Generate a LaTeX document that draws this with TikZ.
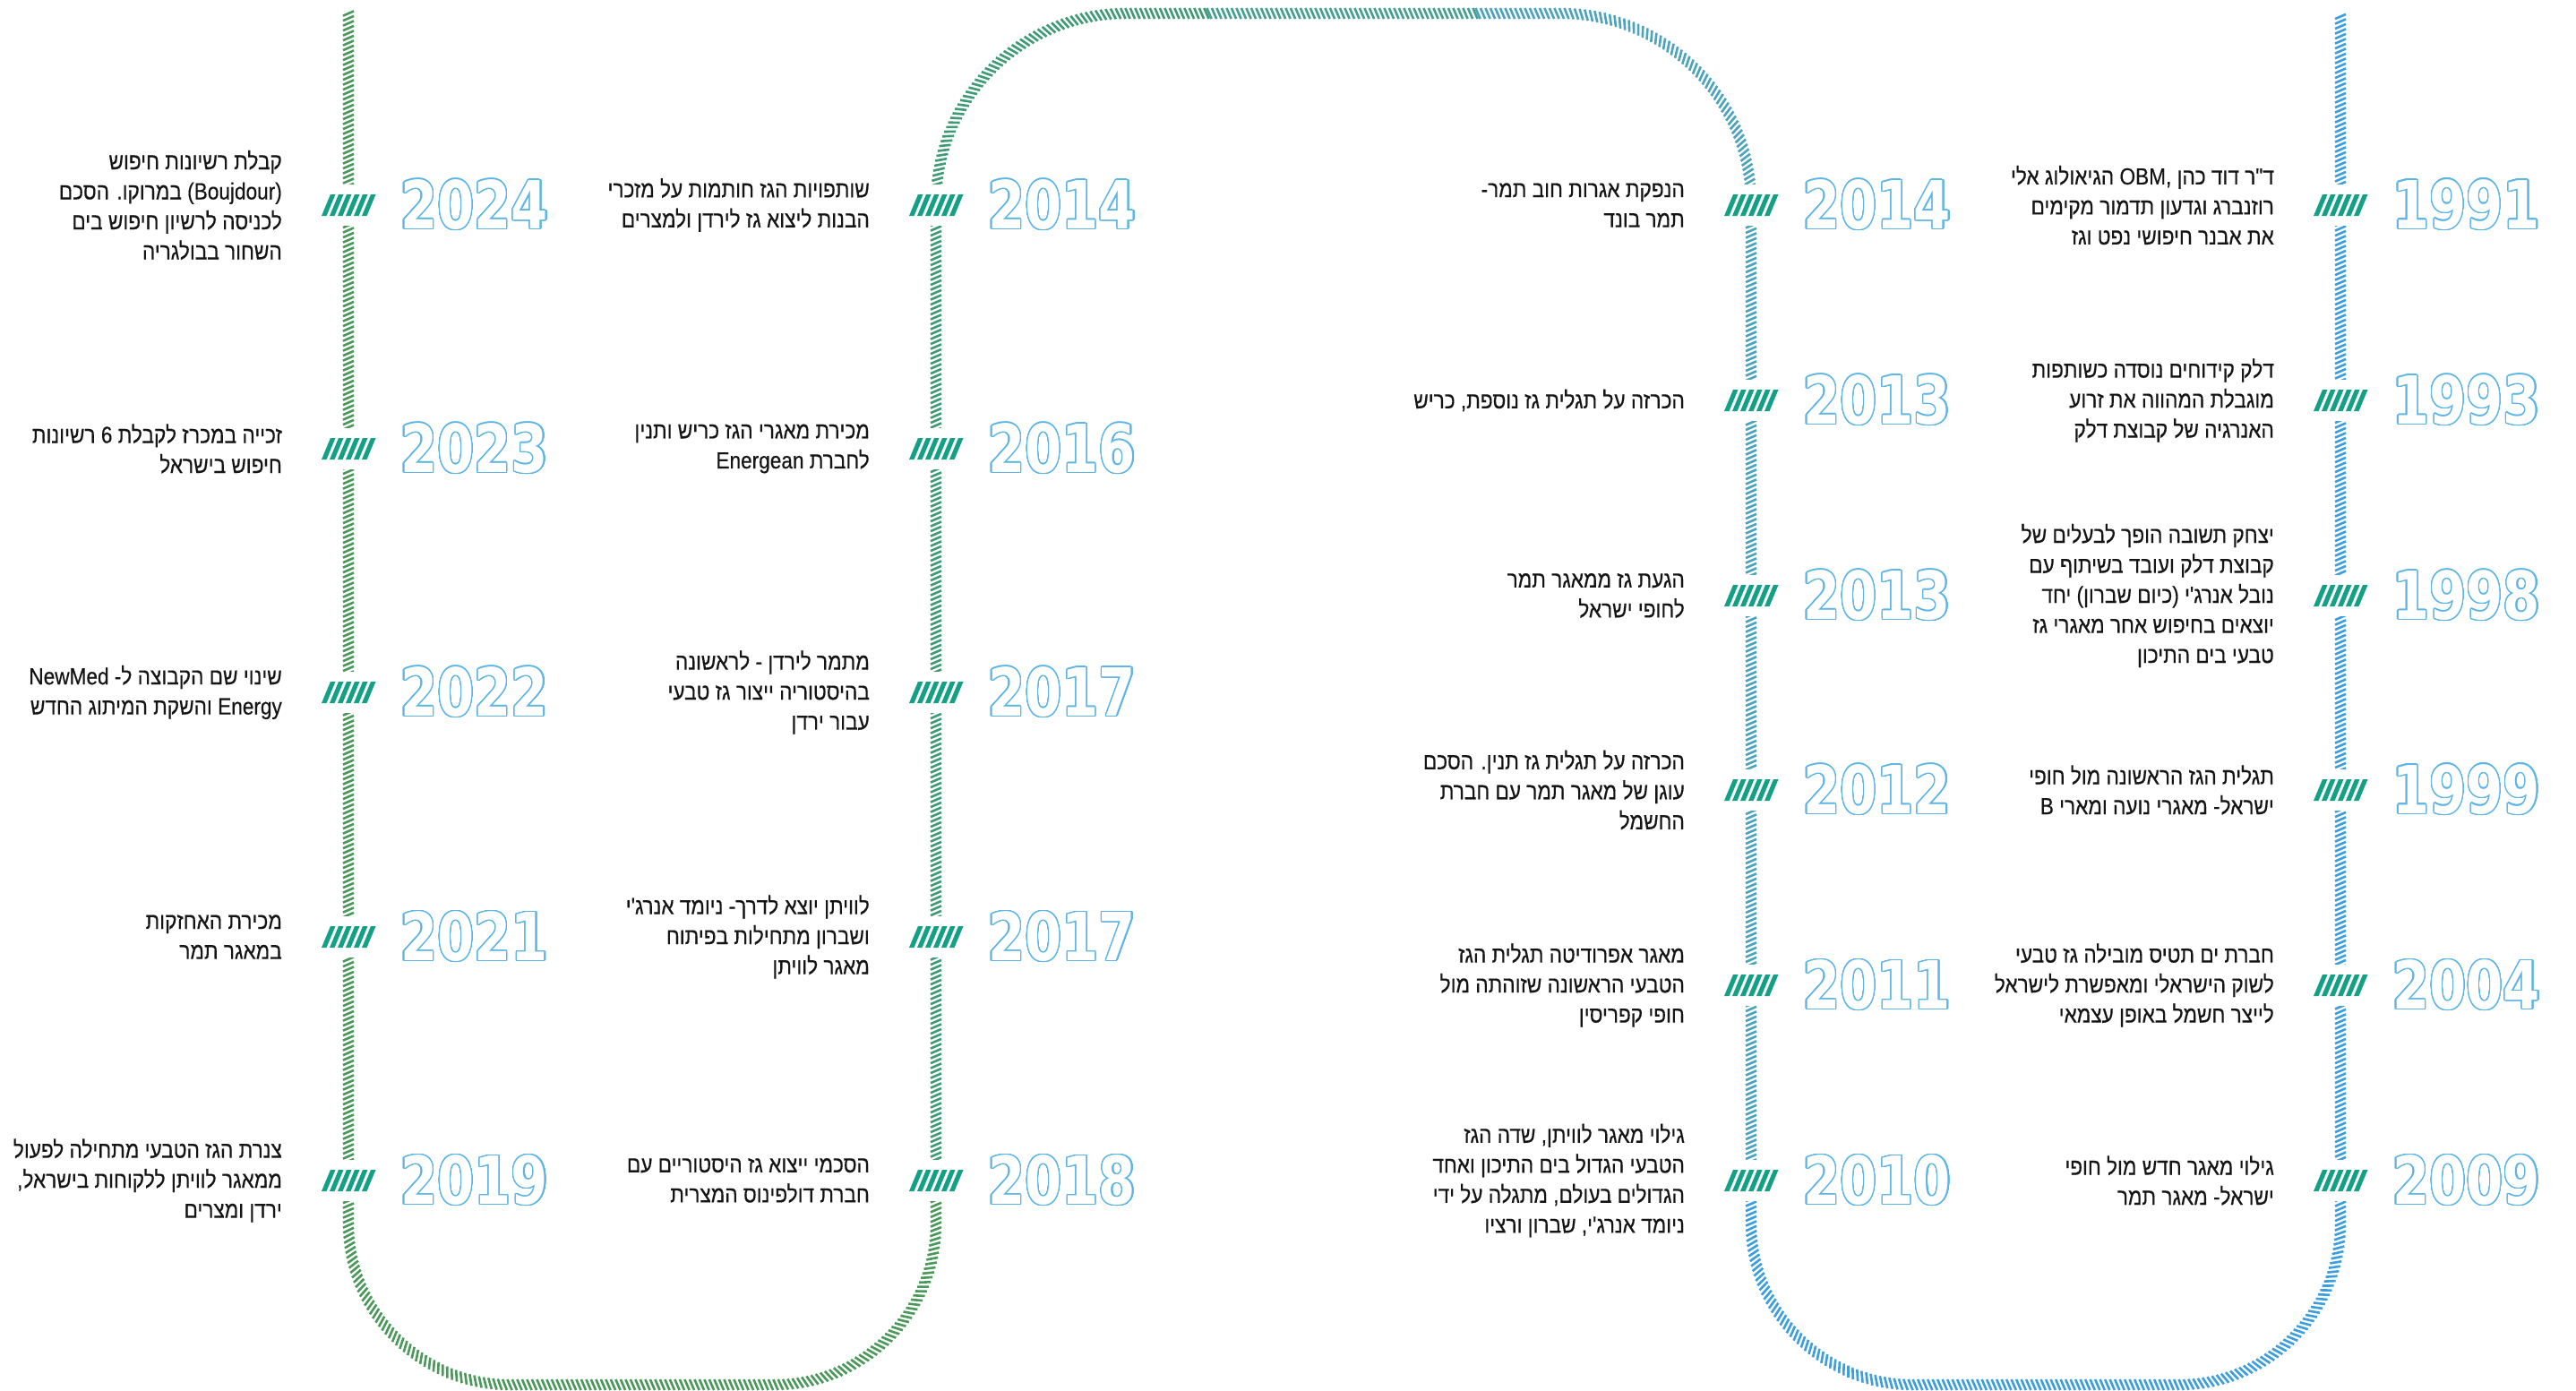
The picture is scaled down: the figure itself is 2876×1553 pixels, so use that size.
\documentclass[tikz,border=0pt]{standalone}
\usepackage{fontspec}
\usepackage[copies]{contour}
\usetikzlibrary{decorations.markings}
\TeXXeTstate=1
\newfontfamily\hebfont[Script=Hebrew,FakeStretch=0.87,FakeBold=0.4]{Liberation Sans}
\newfontfamily\yearfont[FakeStretch=0.8]{DejaVu Sans}
\definecolor{trackgreen}{HTML}{4A985A}
\definecolor{trackteal1}{HTML}{3F9A76}
\definecolor{trackteal2}{HTML}{44A092}
\definecolor{trackteal3}{HTML}{4CA4BC}
\definecolor{trackblue}{HTML}{3C9EDC}
\definecolor{markteal}{HTML}{14A085}
\definecolor{yearblue}{HTML}{5DB5E5}
\definecolor{txt}{HTML}{151515}
\contourlength{1.3pt}
\contournumber{32}
\newcommand\rl[1]{\beginR #1\endR}
\newcommand\tickbars[1]{\foreach \i in {0,...,5}{\fill[markteal,shift={(#1.center)}] (-30+9*\i,-12) -- ++(5.5,0) -- ++(10,24) -- ++(-5.5,0) -- cycle;}}
\tikzset{
  hatch/.style={decoration={markings, mark=between positions 0 and 1 step 5.5pt with {\draw[#1, line width=2.6pt] (2.6pt,-6pt) -- (-2.6pt,6pt);}}, decorate},
  gap/.style={fill=white, minimum width=66pt, minimum height=46pt, inner sep=0pt},
  event/.style={anchor=east, inner sep=0pt, align=right, text=txt, font=\hebfont\fontsize{26pt}{33.5pt}\selectfont},
  year/.style={anchor=west, inner sep=0pt, text=white, font=\yearfont\bfseries\fontsize{74pt}{74pt}\selectfont},
}
\newcommand\evt[5]{%
  \node[gap] (m#1) at (#2,-#3) {};
  \tickbars{m#1}
  \node[year] (y#1) at ([xshift=58pt]m#1.center) {\contour{yearblue}{#4}};
  \node[event] (t#1) at ([xshift=-74pt]m#1.center) {#5};
}
\begin{document}
\begin{tikzpicture}[x=1pt,y=1pt]
\path[use as bounding box, fill=white] (0,0) rectangle (2876,-1553);
% tracks
\path[hatch=trackgreen, rounded corners=180pt] (389,-15) -- (389,-1546) -- (1045,-1546) -- (1045,-1300);
\path[hatch=trackteal1, rounded corners=212pt] (1045,-1300) -- (1045,-15) -- (1350,-15);
\path[hatch=trackteal2] (1350,-15) -- (1650,-15);
\path[hatch=trackteal3, rounded corners=212pt] (1650,-15) -- (1955,-15) -- (1955,-1300);
\path[hatch=trackblue, rounded corners=180pt] (1955,-1300) -- (1955,-1546) -- (2613,-1546) -- (2613,-15);
% column A
\evt{A1}{389}{229}{2024}{\rl{קבלת רשיונות חיפוש}\\\rl{(Boujdour) במרוקו. הסכם}\\\rl{לכניסה לרשיון חיפוש בים}\\\rl{השחור בבולגריה}}
\evt{A2}{389}{501}{2023}{\rl{זכייה במכרז לקבלת 6 רשיונות}\\\rl{חיפוש בישראל}}
\evt{A3}{389}{773}{2022}{\rl{שינוי שם הקבוצה ל- NewMed}\\\rl{Energy והשקת המיתוג החדש}}
\evt{A4}{389}{1046}{2021}{\rl{מכירת האחזקות}\\\rl{במאגר תמר}}
\evt{A5}{389}{1318}{2019}{\rl{צנרת הגז הטבעי מתחילה לפעול}\\\rl{ממאגר לוויתן ללקוחות בישראל,}\\\rl{ירדן ומצרים}}
% column B
\evt{B1}{1045}{229}{2014}{\rl{שותפויות הגז חותמות על מזכרי}\\\rl{הבנות ליצוא גז לירדן ולמצרים}}
\evt{B2}{1045}{501}{2016}{\rl{מכירת מאגרי הגז כריש ותנין}\\\rl{לחברת Energean}}
\evt{B3}{1045}{773}{2017}{\rl{מתמר לירדן - לראשונה}\\\rl{בהיסטוריה ייצור גז טבעי}\\\rl{עבור ירדן}}
\evt{B4}{1045}{1046}{2017}{\rl{לוויתן יוצא לדרך- ניומד אנרג'י}\\\rl{ושברון מתחילות בפיתוח}\\\rl{מאגר לוויתן}}
\evt{B5}{1045}{1318}{2018}{\rl{הסכמי ייצוא גז היסטוריים עם}\\\rl{חברת דולפינוס המצרית}}
% column C
\evt{C1}{1955}{229}{2014}{\rl{הנפקת אגרות חוב תמר-}\\\rl{תמר בונד}}
\evt{C2}{1955}{447}{2013}{\rl{הכרזה על תגלית גז נוספת, כריש}}
\evt{C3}{1955}{665}{2013}{\rl{הגעת גז ממאגר תמר}\\\rl{לחופי ישראל}}
\evt{C4}{1955}{882}{2012}{\rl{הכרזה על תגלית גז תנין. הסכם}\\\rl{עוגן של מאגר תמר עם חברת}\\\rl{החשמל}}
\evt{C5}{1955}{1100}{2011}{\rl{מאגר אפרודיטה תגלית הגז}\\\rl{הטבעי הראשונה שזוהתה מול}\\\rl{חופי קפריסין}}
\evt{C6}{1955}{1318}{2010}{\rl{גילוי מאגר לוויתן, שדה הגז}\\\rl{הטבעי הגדול בים התיכון ואחד}\\\rl{הגדולים בעולם, מתגלה על ידי}\\\rl{ניומד אנרג'י, שברון ורציו}}
% column D
\evt{D1}{2613}{229}{1991}{\rl{ד"ר דוד כהן OBM, הגיאולוג אלי}\\\rl{רוזנברג וגדעון תדמור מקימים}\\\rl{את אבנר חיפושי נפט וגז}}
\evt{D2}{2613}{447}{1993}{\rl{דלק קידוחים נוסדה כשותפות}\\\rl{מוגבלת המהווה את זרוע}\\\rl{האנרגיה של קבוצת דלק}}
\evt{D3}{2613}{665}{1998}{\rl{יצחק תשובה הופך לבעלים של}\\\rl{קבוצת דלק ועובד בשיתוף עם}\\\rl{נובל אנרג'י (כיום שברון) יחד}\\\rl{יוצאים בחיפוש אחר מאגרי גז}\\\rl{טבעי בים התיכון}}
\evt{D4}{2613}{882}{1999}{\rl{תגלית הגז הראשונה מול חופי}\\\rl{ישראל- מאגרי נועה ומארי B}}
\evt{D5}{2613}{1100}{2004}{\rl{חברת ים תטיס מובילה גז טבעי}\\\rl{לשוק הישראלי ומאפשרת לישראל}\\\rl{לייצר חשמל באופן עצמאי}}
\evt{D6}{2613}{1318}{2009}{\rl{גילוי מאגר חדש מול חופי}\\\rl{ישראל- מאגר תמר}}
\end{tikzpicture}
\end{document}
